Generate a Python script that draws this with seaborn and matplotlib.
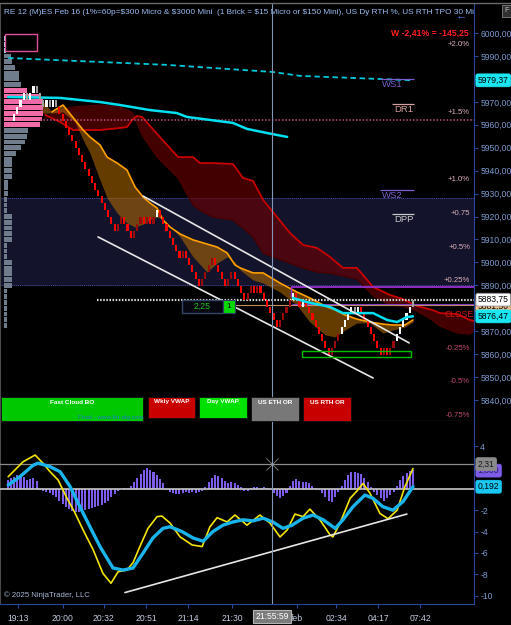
import matplotlib
matplotlib.use("Agg")
import numpy as np
import matplotlib.pyplot as plt
from matplotlib.patches import Rectangle
from matplotlib.lines import Line2D
from matplotlib.transforms import blended_transform_factory
import seaborn as sns

#######################################################
# Renko MES chart (3 pt bricks) with clouds + oscillator
#######################################################

# --- renko bricks (close of each brick, first brick opens at first_open)
first_open = 5961.75
brick_close = [
    5964.75, 5967.75, 5970.75, 5973.75, 5970.75, 5973.75, 5976.75, 5973.75, 5970.75, 5967.75,
    5970.75, 5967.75, 5970.75, 5967.75,
    5964.75, 5961.75, 5958.75, 5955.75, 5952.75, 5949.75, 5946.75, 5943.75, 5940.75, 5937.75,
    5934.75, 5931.75, 5928.75, 5925.75, 5922.75, 5919.75, 5916.75, 5913.75,
    5916.75, 5919.75, 5916.75, 5913.75, 5910.75,
    5913.75, 5916.75, 5919.75, 5916.75, 5919.75, 5916.75, 5919.75, 5922.75,
    5919.75, 5916.75, 5913.75, 5910.75, 5907.75, 5904.75, 5901.75,
    5904.75, 5901.75, 5898.75, 5895.75, 5892.75, 5889.75,
    5892.75, 5895.75, 5898.75, 5901.75,
    5898.75, 5895.75, 5892.75, 5889.75,
    5892.75, 5895.75,
    5892.75, 5889.75, 5886.75, 5883.75,
    5886.75, 5889.75,
    5886.75, 5889.75, 5886.75, 5883.75, 5880.75, 5877.75, 5874.75, 5871.75,
    5874.75, 5877.75, 5880.75, 5883.75, 5886.75,
    5883.75, 5880.75, 5883.75, 5880.75, 5877.75, 5874.75, 5871.75, 5868.75, 5865.75, 5862.75, 5859.75,
    5862.75, 5865.75, 5868.75, 5871.75, 5874.75, 5877.75, 5880.75, 5877.75, 5880.75,
    5877.75, 5874.75, 5871.75, 5868.75, 5865.75, 5862.75, 5859.75,
    5862.75, 5859.75,
    5862.75, 5865.75, 5868.75, 5871.75, 5874.75, 5877.75, 5880.75, 5883.75,
]
# w = white up, g = grey, r = red down, d = dark red up
brick_kind = ("wwwwgwwgggwgwg" "rrrrrrrrrrrrrrrrrr" "ddrrrdddrdrdw" "rrrrrrr" "d" "rrrrr"
              "dddd" "rrrr" "dd" "rrrr" "dd" "r" "d" "rrrrrr" "dddd" "w" "rr" "w" "rrrrrrrr"
              "ddd" "wwww" "g" "w" "rrrrrrr" "d" "r" "dd" "wwwww" "g")

# --- fast (orange) cloud
or_x = [8.0, 11.7, 15.1, 18.8, 21.3, 23.4, 26.5, 28.7, 31.8, 34.8, 37.3, 39.8, 41.9, 44.1, 45.9,
        48.1, 51.2, 55.2, 59.5, 62.6, 65.7, 68.1, 69.7, 73.7, 76.8, 82.0, 87.2, 91.2, 95.9, 99.0,
        102.0, 105.7, 109.7, 113.7, 116.8, 120.5, 123.0]
or_up = [5971.7, 5965.6, 5968.6, 5962.1, 5957.7, 5954.7, 5951.2, 5945.9, 5943.3, 5940.3, 5932.9,
         5928.5, 5925.9, 5923.7, 5918.5, 5915.4, 5912.4, 5909.8, 5908.0, 5906.7, 5904.1, 5898.9,
         5897.6, 5895.4, 5895.4, 5891.0, 5887.1, 5884.5, 5881.0, 5879.3, 5877.1, 5875.3, 5874.0,
         5873.1, 5872.7, 5872.7, 5874.9]
or_lo = [5965.1, 5965.1, 5965.6, 5961.2, 5953.4, 5947.7, 5935.9, 5928.1, 5921.5, 5917.2, 5915.4,
         5916.7, 5918.5, 5919.8, 5918.9, 5915.9, 5911.1, 5902.4, 5895.8, 5899.7, 5902.4, 5900.2,
         5896.7, 5892.3, 5891.0, 5887.1, 5881.4, 5874.0, 5868.4, 5867.5, 5870.5, 5873.6, 5873.6,
         5869.2, 5870.5, 5871.8, 5874.0]

# --- slow (red) cloud
red_x = [9.6, 14.2, 18.2, 26.5, 32.7, 34.8, 36.7, 37.9, 39.5, 44.1, 50.6, 55.2, 57.3, 61.3, 67.5,
         70.6, 73.7, 76.8, 79.8, 85.1, 89.1, 93.4, 97.4, 101.4, 105.7, 110.7, 115.9, 119.9, 124.2,
         128.9, 131.3, 136.6, 140.5, 141.8]
red_a = [5964.3, 5961.2, 5957.7, 5957.7, 5958.6, 5959.0, 5962.5, 5963.8, 5963.4, 5956.0, 5945.9,
         5945.9, 5943.3, 5943.3, 5942.9, 5936.8, 5935.5, 5927.2, 5922.0, 5912.8, 5907.6, 5906.3,
         5902.4, 5897.6, 5897.6, 5889.3, 5885.8, 5884.0, 5881.0, 5879.3, 5877.9, 5877.5, 5874.9,
         5874.5]
red_b = [5962.9, 5966.4, 5967.7, 5968.6, 5967.7, 5966.4, 5965.1, 5960.8, 5955.5, 5945.9, 5936.8,
         5925.0, 5922.8, 5919.8, 5918.5, 5915.0, 5911.1, 5904.1, 5902.4, 5899.7, 5897.6, 5895.8,
         5895.4, 5894.1, 5892.8, 5885.4, 5881.4, 5881.0, 5878.8, 5874.9, 5872.3, 5869.3, 5868.8,
         5870.5]

# --- VWAP lines
vwap_day_x = [-1.8, 14.2, 26.5, 32.7, 41.9, 50.2, 53.3, 67.5, 71.8, 78.0, 84.2]
vwap_day_y = [5972.1, 5971.7, 5969.9, 5968.6, 5966.4, 5965.1, 5963.4, 5960.8, 5958.2, 5956.4, 5954.7]
vwap_new_x = [86.0, 90.3, 97.4, 101.4, 106.7, 110.7, 115.0, 118.1, 121.1, 123.0]
vwap_new_y = [5884.5, 5882.7, 5880.6, 5877.9, 5877.9, 5877.9, 5874.9, 5874.0, 5876.2, 5876.47]
vwap_wk_x = [-1.8, 47.2, 79.8, 88.2, 123.0]
vwap_wk_y = [5989.1, 5986.1, 5983.0, 5981.3, 5979.37]

# --- volume profile (left side)
profile_price = [5997.5, 5995.0, 5992.5, 5990.0, 5987.5, 5985.0, 5982.5, 5980.0, 5977.5, 5975.0,
                 5972.5, 5970.0, 5967.5, 5965.0, 5962.5, 5960.0, 5957.5, 5955.0, 5952.5, 5950.0,
                 5947.5, 5945.0, 5942.5, 5940.0, 5937.5, 5935.0, 5932.5, 5930.0, 5927.5, 5925.0,
                 5922.5, 5920.0, 5917.5, 5915.0, 5912.5, 5910.0, 5907.5, 5905.0, 5902.5, 5900.0,
                 5897.5, 5895.0, 5892.5, 5890.0, 5887.5, 5885.0, 5882.5, 5880.0, 5877.5, 5875.0,
                 5872.5]
profile_vol = [2, 2, 2, 7, 8, 11, 15, 15, 17, 23,
               36, 39, 39, 39, 38, 36, 24, 23, 21, 17,
               12, 8, 8, 8, 8, 4, 4, 4, 3, 3,
               3, 8, 8, 8, 8, 8, 3, 3, 3, 8,
               8, 8, 8, 8, 3, 3, 3, 3, 3, 3,
               3]

# --- levels
prior_close = 5877.25
pct_levels = [2.0, 1.5, 1.0, 0.75, 0.5, 0.25, -0.25, -0.5, -0.75]
pct_labels = ["+2.0%", "+1.5%", "+1.0%", "+0.75", "+0.5%", "+0.25%", "-0.25%", "-0.5%", "-0.75%"]
pivot_names = ["WS1", "DR1", "WS2", "DPP"]
pivot_prices = [5979.9, 5969.1, 5931.6, 5921.1]
pivot_start = [112.8, 116.5, 112.8, 116.5]
pivot_colors = ["#7a5fd0", "#d8a0a0", "#7a5fd0", "#c8c8c8"]
zone_low, zone_high = 5890.1, 5928.0
tpo_level = 5962.1
last_price = 5883.75
tan_level = 5881.5
or_high = 5889.3
or_mid = 5881.9
trend1_x, trend1_y = [39.8, 121.8], [5928.9, 5864.9]
trend2_x, trend2_y = [25.9, 110.7], [5911.1, 5849.6]

# --- oscillator
yellow_x = [-1.8, 2.8, 6.5, 8.9, 11.1, 13.6, 16.3, 18.8, 21.3, 24.4, 27.4, 29.9, 32.1, 34.8, 36.7,
            38.8, 41.3, 44.1, 45.6, 48.1, 51.2, 54.9, 58.0, 60.4, 62.6, 65.7, 68.1, 71.8, 75.8,
            78.9, 82.0, 84.2, 86.6, 89.1, 91.2, 94.3, 97.4, 98.3, 100.5, 103.6, 106.0, 107.6,
            109.7, 112.8, 115.3, 118.1, 120.5, 123.0]
yellow_y = [1.13, 2.53, 3.16, 2.4, 1.6, 0.82, -0.86, -2.26, -3.85, -5.7, -7.9, -8.83, -7.75, -7.6,
            -6.9, -5.4, -3.7, -2.6, -2.55, -3.2, -4.5, -5.25, -5.4, -3.55, -2.7, -3.1, -2.45, -3.4,
            -2.45, -3.2, -4.5, -3.85, -2.36, -2.6, -1.9, -2.9, -4.3, -4.5, -3.2, -0.9, -0.1, 0.5,
            -0.4, -2.3, -2.8, -2.0, 0.2, 1.9]
cyan_x = [-1.8, 1.8, 5.9, 7.4, 11.1, 14.2, 17.3, 20.3, 23.4, 26.5, 30.5, 33.6, 36.7, 39.8, 42.8,
          45.9, 48.1, 51.8, 55.2, 58.3, 61.3, 64.4, 67.5, 70.6, 73.7, 76.8, 79.8, 82.9, 85.7, 89.1,
          92.2, 95.3, 99.0, 101.4, 104.5, 108.2, 110.7, 113.7, 116.8, 119.9, 123.0]
cyan_y = [0.36, 1.13, 2.2, 2.4, 2.07, 1.6, 0.2, -1.67, -3.55, -5.4, -7.4, -7.6, -7.4, -6.0, -4.6,
          -3.7, -3.55, -4.0, -4.6, -4.9, -4.0, -3.4, -3.1, -2.9, -3.0, -2.75, -3.1, -3.7, -3.4,
          -2.75, -2.45, -2.9, -3.7, -2.9, -1.67, -0.58, -0.9, -1.67, -2.0, -1.2, 0.192]
hist_start = -2
hist_vals = [0.8, 1.0, 1.1, 1.3, 1.2, 1.1, 0.85, 0.9, 1.0, 0.7,
             -0.1, -0.2, -0.3, -0.4, -0.6, -0.8, -1.1, -1.4, -1.7, -1.9, -2.1, -2.2, -2.2, -2.1,
             -2.0, -1.9, -1.8, -1.7, -1.6, -1.5, -1.3, -1.1, -0.8, -0.5, -0.2,
             0.0, 0.05, 0.1,
             0.3, 0.6, 1.0, 1.4, 1.8, 1.9, 1.8, 1.6, 1.3, 0.9, 0.5,
             -0.1, -0.3, -0.4, -0.5, -0.5, -0.4, -0.3, -0.4, -0.3, -0.4, -0.3, -0.2,
             0.2, 0.6, 1.0, 1.3, 1.2, 1.0, 0.7, 0.5, 0.6, 0.5, 0.4, 0.2,
             -0.2, -0.2, 0.1, 0.2, 0.2, 0.1, 0.2, 0.1, -0.1,
             -0.4, -0.7, -0.9, -0.7, -0.4,
             0.3, 0.7, 0.9, 0.7, 0.6, 0.6, 0.5, 0.3,
             0.1, -0.1,
             -0.4, -0.8, -1.1, -1.2, -0.8, -0.3,
             0.3, 0.8, 1.3, 1.6, 1.6, 1.5, 1.4, 1.0, 0.6, 0.2,
             -0.3, -0.6, -0.9, -1.1, -0.9, -0.6, -0.3,
             0.3, 0.8, 1.2, 1.5, 1.7, 1.8]
osc_trend_x, osc_trend_y = [34.2, 121.1], [-9.7, -2.36]
cross_x, cross_val = 79.5, 2.31

time_pos = [1.2, 15.1, 27.7, 40.7, 53.6, 67.2, 87.2, 99.3, 112.2, 125.2]
time_lbl = ["19:13", "20:00", "20:32", "20:51", "21:14", "21:30", "feb", "02:34", "04:17", "07:42"]

buttons = [("Fast Cloud BO", "#00c800", (1, 397, 143, 421)),
           ("Wkly VWAP", "#c80000", (148, 397, 195, 418)),
           ("Day VWAP", "#00e000", (199, 397, 247, 418)),
           ("US ETH OR", "#787878", (251, 397, 299, 421)),
           ("US RTH OR", "#c80000", (303, 397, 351, 421))]

title = ("RE 12 (M)ES Feb 16 (1%=60p=\\$300 Micro & \\$3000 Mini  (1 Brick = \\$15 Micro or \\$150 Mini), "
         "US Dy RTH %, US RTH TPO 30 Min")

# ------------------------------------------------------------------
sns.set_style("dark", {"axes.facecolor": "black", "figure.facecolor": "black"})
plt.rcParams["font.family"] = ["Liberation Sans", "DejaVu Sans"]

W, H = 511, 625
fig = plt.figure(figsize=(W / 100, H / 100), dpi=100)
fig.patch.set_facecolor("black")
ax = fig.add_axes([0, (H - 421) / H, 474 / W, 417 / H])
ax2 = fig.add_axes([0, (H - 604) / H, 474 / W, 183 / H])
XL = (-4.32, 141.8)

for a in (ax, ax2):
    a.set_facecolor("black")
    a.grid(False)
    a.set_xlim(*XL)
    for s in ("top", "left", "bottom"):
        a.spines[s].set_visible(False)
    a.spines["right"].set_color("#2848a0")
    a.spines["left"].set_visible(True)
    a.spines["left"].set_color("#4a4a4a")
    a.yaxis.tick_right()
ax.set_ylim(5830.86, 6012.64)
ax2.set_ylim(-10.77, 6.34)
ax.spines["bottom"].set_visible(True)
ax.spines["bottom"].set_color("#707070")
ax2.spines["bottom"].set_visible(True)
ax2.spines["bottom"].set_color("#2848a0")

# zone + horizontal levels
ax.axhspan(zone_low, zone_high, color="#13132b", zorder=0)
for lv in (zone_low, zone_high):
    ax.axhline(lv, color="#4848a0", lw=0.7, ls=(0, (1, 1)), zorder=1)
ax.hlines(tpo_level, 8.0, XL[1], color="#c05080", lw=1.1, ls=(0, (1, 1.2)), zorder=3)

# clouds
ax.fill_between(red_x, red_a, red_b, color="#700000", alpha=0.6, lw=0, zorder=1)
ax.plot(red_x, red_b, color="#4a0000", lw=1.0, zorder=2)
sns.lineplot(x=red_x, y=red_a, ax=ax, color="#c80000", lw=1.3, sort=False, estimator=None, zorder=2)
ax.fill_between(or_x, or_up, or_lo, color="#b06800", alpha=0.58, lw=0, zorder=2)
sns.lineplot(x=or_x[1:], y=or_up[1:], ax=ax, color="#ffa000", lw=1.2, sort=False, estimator=None, zorder=3)

# volume profile
prof_col = []
for p in profile_price:
    if p > 5991:
        prof_col.append("#9fd6ea")
    elif 5959 <= p <= 5976:
        prof_col.append("#f06aa8")
    else:
        prof_col.append("#6f7c8c")
ax.barh(profile_price, np.array(profile_vol) / 3.244, left=-3.06, height=2.1, color=prof_col,
        linewidth=0, zorder=2)
ax.add_patch(Rectangle((-2.8, 5992.2), 9.9, 7.4, fill=False, ec="#e0509a", lw=1.0, zorder=4))

# vwaps
sns.lineplot(x=vwap_wk_x, y=vwap_wk_y, ax=ax, color="#00c8d8", lw=1.3, sort=False,
             estimator=None, zorder=3).lines[-1].set_dashes((3, 2))
sns.lineplot(x=vwap_day_x, y=vwap_day_y, ax=ax, color="#00e0f0", lw=1.8, sort=False, estimator=None, zorder=3)
sns.lineplot(x=vwap_new_x, y=vwap_new_y, ax=ax, color="#00e0f0", lw=1.8, sort=False, estimator=None, zorder=7)

# other level lines
ax.hlines(last_price, 25.6, XL[1], color="#d8d8d8", lw=1.6, ls=(0, (0.7, 0.7)), zorder=4)
ax.hlines(tan_level, 68.1, XL[1], color="#c09060", lw=0.8, zorder=4)
ax.hlines(or_high, 85.4, XL[1], color="#9a30d0", lw=1.3, zorder=4)
ax.vlines(85.4, or_high - 4.2, or_high, color="#9a30d0", lw=1.0, zorder=4)
ax.hlines(or_mid, 85.7, XL[1], color="#8040c0", lw=0.8, zorder=4)

# pivots
for nm, pv, st, col in zip(pivot_names, pivot_prices, pivot_start, pivot_colors):
    ax.hlines(pv, st, 123.3, color=col, lw=0.9, zorder=4)
    ax.text(st + 0.6, pv - 0.6, nm, color=col, fontsize=6.8, va="top", ha="left", zorder=4)

# percentage labels
for p, lb in zip(pct_levels, pct_labels):
    ax.text(140.6, prior_close * (1 + p / 100), lb, ha="right", va="center", fontsize=5.6,
            color="#dcb0b8" if p > 0 else "#c44878", zorder=8)
ax.text(141.6, prior_close, "CLOSE", ha="right", va="center", fontsize=6.2, color="#d01818", zorder=8)

# renko bricks
opens = [first_open] + brick_close[:-1]
kind_col = {"w": "#ffffff", "g": "#a0a0a0", "r": "#ff0000", "d": "#9a0a0a"}
bx = np.arange(len(brick_close))
ax.bar(bx, np.array(brick_close) - np.array(opens), bottom=opens, width=0.66,
       color=[kind_col[k] for k in brick_kind], linewidth=0, zorder=6)

# trend lines
ax.plot(trend1_x, trend1_y, color="#e6e6e6", lw=1.2, zorder=8)
ax.plot(trend2_x, trend2_y, color="#e6e6e6", lw=1.2, zorder=8)
ax.add_patch(Rectangle((88.8, 5858.9), 33.6, 2.5, fill=False, ec="#00c000", lw=1.0, zorder=8))

# counter box
ax.add_patch(Rectangle((51.8, 5877.9), 12.6, 5.7, fc="#07070f", ec="#34466a", lw=1.0, zorder=9))
ax.text(58.1, 5880.75, "2,25", color="#22c022", fontsize=6.3, ha="center", va="center", zorder=10)
ax.add_patch(Rectangle((64.4, 5877.9), 3.7, 5.7, fc="#00d800", ec="#304060", lw=0.8, zorder=9))
ax.text(66.25, 5880.75, "1", color="black", fontsize=6, ha="center", va="center", zorder=10)

ax.text(140.2, 6000.0, "W -2,41% = -145,25", color="#ff2020", fontsize=6.2, fontweight="bold",
        ha="right", va="center", zorder=10)
ax.text(4 / 474, 1 - 8 / 417, title, transform=ax.transAxes, color="#9cbcf2", fontsize=5.95,
        ha="left", va="center", clip_on=True, zorder=10)

# price axis ticks (labels hidden behind value tags are left blank)
pticks = np.arange(5840, 6001, 10)
ax.set_yticks(pticks)
ax.set_yticklabels(["" if v in (5880, 5980) else f"{v:.2f}".replace(".", ",") for v in pticks])
ax.tick_params(axis="y", right=True, colors="#2848a0", labelcolor="#7d9ad0", labelsize=6.2,
               length=3, width=0.8, pad=1.5)
ax.set_xticks([])

trP = blended_transform_factory(ax.transAxes, ax.transData)
def tag(axis, tr, y, txt, fc, tc="black", ec=None):
    axis.text(1.008, y, txt, transform=tr, ha="left", va="center", fontsize=6.2, color=tc,
              clip_on=False, zorder=30,
              bbox=dict(boxstyle="round,pad=0.22", fc=fc, ec=ec or fc, lw=0.6))

tag(ax, trP, vwap_wk_y[-1], "5979,37", "#19e6f0")
tag(ax, trP, tan_level - 0.8, "5881,50", "#f0c08c")
tag(ax, trP, last_price, "5883,75", "#ffffff", ec="#909090")
tag(ax, trP, vwap_new_y[-1], "5876,47", "#19e6f0")

# crosshair
for a in (ax, ax2):
    a.axvline(cross_x, color="#8496b8", lw=0.8, zorder=12)

# oscillator
ax2.axhline(0, color="#c8c8c8", lw=1.2, zorder=3)
ax2.axhline(cross_val, color="#8c8c8c", lw=0.9, zorder=3)
hx = np.arange(hist_start, hist_start + len(hist_vals))
ax2.bar(hx, hist_vals, width=0.62, color="#7c5ce8", linewidth=0, zorder=2)
sns.lineplot(x=yellow_x, y=yellow_y, ax=ax2, color="#f2e40a", lw=1.2, sort=False, estimator=None, zorder=5)
sns.lineplot(x=cyan_x, y=cyan_y, ax=ax2, color="#1ab4ec", lw=2.4, sort=False, estimator=None, zorder=6)
ax2.plot(osc_trend_x, osc_trend_y, color="#e6e6e6", lw=1.2, zorder=6)
ax2.plot(cross_x, cross_val, marker="x", ms=9, color="#9a9a9a", mew=0.5, zorder=13)

oticks = np.arange(-10, 5, 2)
ax2.set_yticks(oticks)
ax2.set_yticklabels(["" if v in (0, 2) else str(v) for v in oticks])
ax2.tick_params(axis="y", right=True, colors="#2848a0", labelcolor="#7d9ad0", labelsize=6.2,
                length=3, width=0.8, pad=1.5)
ax2.set_xticks(time_pos)
ax2.set_xticklabels(time_lbl)
ax2.tick_params(axis="x", bottom=True, colors="#2848a0", labelcolor="#c5cde0", labelsize=6.2,
                length=3, width=0.8, pad=4)
trO = blended_transform_factory(ax2.transAxes, ax2.transData)
tag(ax2, trO, hist_vals[-1] - 0.1, f"{hist_vals[-1]:.3f}".replace(".", ","), "#7c5ce8", tc="#2a1a60")
tag(ax2, trO, cross_val, f"{cross_val:.2f}".replace(".", ","), "#8a8a8a", tc="#1a1a1a")
tag(ax2, trO, cyan_y[-1], f"{cyan_y[-1]:.3f}".replace(".", ","), "#19c8f2")
ax2.text(cross_x, -0.067, "21:55:59", transform=blended_transform_factory(ax2.transData, ax2.transAxes),
         ha="center", va="center", fontsize=6.2, color="white", clip_on=False, zorder=30,
         bbox=dict(boxstyle="square,pad=0.25", fc="#7a7a7a", ec="#b4b4b4", lw=0.8))
ax2.text(4 / 474, 1 - 174 / 183, "\u00a9 2025 NinjaTrader, LLC", transform=ax2.transAxes,
         color="#a8b4d4", fontsize=5.6, ha="left", va="center", zorder=10)

# buttons row (chart UI)
for name, col, (x0, y0, x1, y1) in buttons:
    fig.add_artist(Rectangle((x0 / W, 1 - y1 / H), (x1 - x0) / W, (y1 - y0) / H,
                             transform=fig.transFigure, fc=col, ec="#101010", lw=0.6, zorder=20))
    fig.text((x0 + x1) / 2 / W, 1 - (y0 + 5) / H, name, color="white", fontsize=4.6,
             fontweight="bold", ha="center", va="center", zorder=21)
fig.text(111 / W, 1 - 418 / H, "Final - www.fin-alg.com", color="#1e78c8", fontsize=4.6,
         ha="center", va="center", zorder=21)

# frame bits
fig.add_artist(Line2D([0, 1], [1 - 3 / H] * 2, color="#6a6a6a", lw=1.0, transform=fig.transFigure))
fig.text(461 / W, 1 - 15 / H, "\u2190", color="#4a78e0", fontsize=8, ha="center", va="center")
fig.add_artist(Rectangle((502 / W, 1 - 17 / H), 9 / W, 12 / H, transform=fig.transFigure,
                         fc="#303030", ec="#808080", lw=0.6))
fig.text(506.5 / W, 1 - 11 / H, "F", color="#c0c0c0", fontsize=5.5, ha="center", va="center")

fig.savefig("out.png", dpi=100, facecolor="black")
